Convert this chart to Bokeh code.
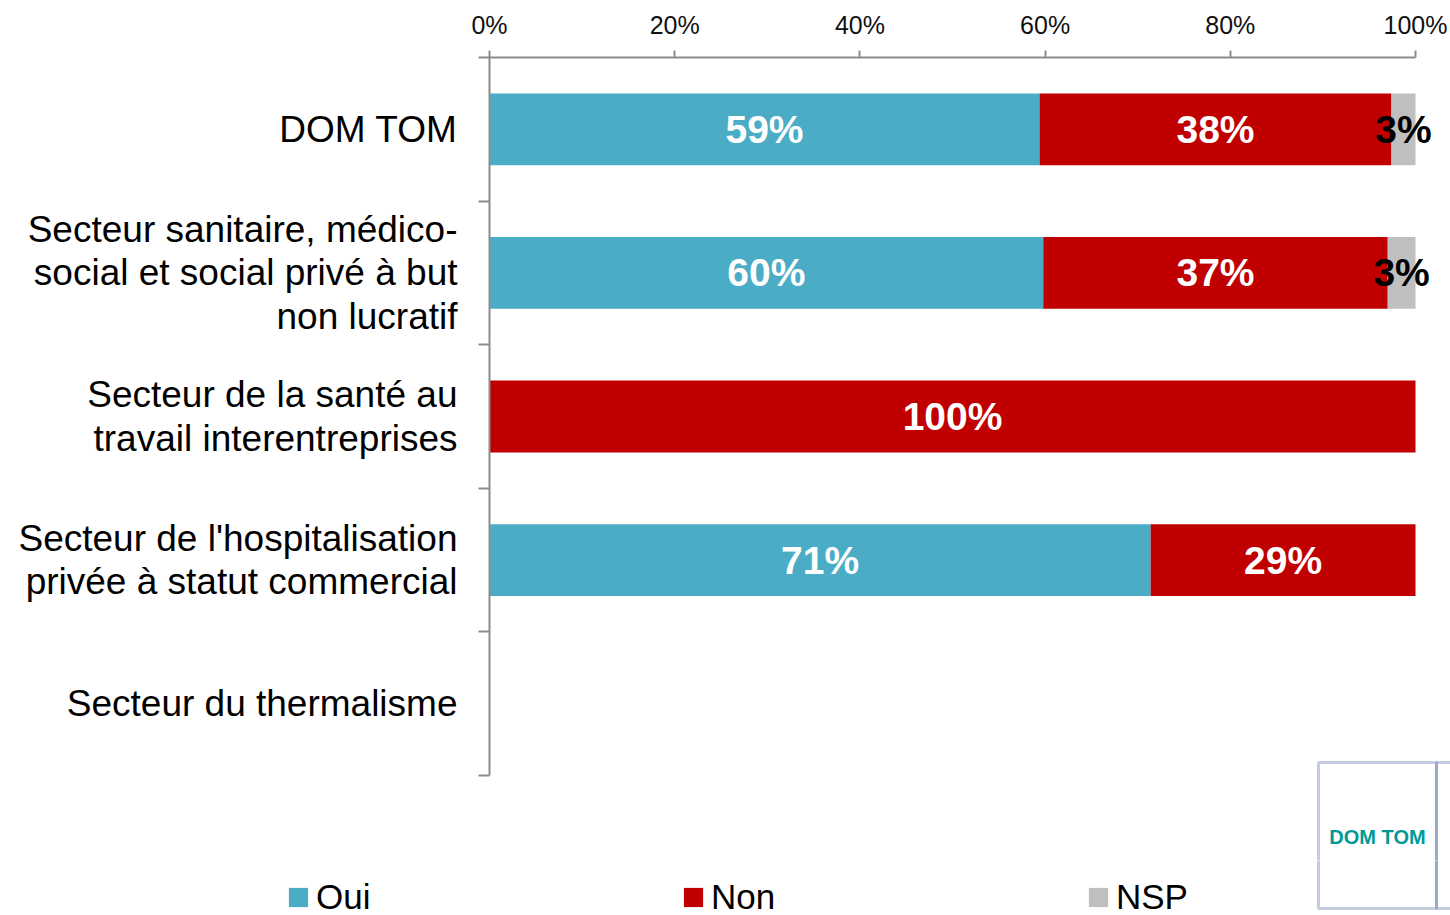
from bokeh.plotting import figure
from bokeh.models import (Range1d, FixedTicker, PrintfTickFormatter, ColumnDataSource,
                          LabelSet, Legend, LegendItem, BoxAnnotation, Label)
from bokeh.core.properties import value
from bokeh.embed import file_html
from bokeh.resources import INLINE

categories = [
    "DOM TOM",
    "Secteur sanitaire, médico-\nsocial et social privé à but\nnon lucratif",
    "Secteur de la santé au\ntravail interentreprises",
    "Secteur de l'hospitalisation\nprivée à statut commercial",
    "Secteur du thermalisme",
]
oui = [59.4, 59.8, 0, 71.4, 0]
non = [38.0, 37.2, 100, 28.6, 0]
nsp = [2.6, 3.0, 0, 0, 0]
series = ["Oui", "Non", "NSP"]
colors = ["#4BACC6", "#C00000", "#BFBFBF"]
label_colors = ["white", "white", "black"]
x_ticks = [0, 20, 40, 60, 80, 100]

FONT = "Liberation Sans"
AXIS_GRAY = "#8C8C8C"
TABLE_LINE = "#3A5A96"

# ---- layout geometry (pixels) ----
W = 1450
H_CHART = 860
H_LEG = 55
LEFT = 489          # x pixel of 0 %
TOP = 57            # y pixel of the category axis top
PX_PER_100 = 926    # pixels for 0..100 %
PX_PER_ROW = 143.6  # pixels per category row

n = len(categories)
x_end = 100 * (W - LEFT) / PX_PER_100
y_end = (H_CHART - TOP) / PX_PER_ROW

p = figure(width=W, height=H_CHART, output_backend="svg", toolbar_location=None,
           x_range=Range1d(0, x_end), y_range=Range1d(y_end, 0),
           x_axis_location="above",
           min_border_left=LEFT, min_border_right=0, min_border_top=TOP, min_border_bottom=0)
p.outline_line_color = None
p.xgrid.visible = False
p.ygrid.visible = False

pos = [i + 0.5 for i in range(n)]
source = ColumnDataSource(dict(y=pos, Oui=oui, Non=non, NSP=nsp))
renderers = p.hbar_stack(series, y="y", height=0.5, color=colors, line_color=None, source=source)

# segment labels
lx, ly, lt, lc = [], [], [], []
for i in range(n):
    start = 0.0
    for vals, tc in zip([oui, non, nsp], label_colors):
        v = vals[i]
        if v > 0:
            lx.append(start + v / 2)
            ly.append(pos[i])
            lt.append(f"{round(v)}%")
            lc.append(tc)
        start += v
lsrc = ColumnDataSource(dict(x=lx, y=ly, t=lt, c=lc))
p.add_layout(LabelSet(x="x", y="y", text="t", text_color="c", source=lsrc,
                      text_align="center", text_baseline="middle",
                      text_font=value(FONT), text_font_style="bold", text_font_size="39px"))

# x axis (top)
xa = p.xaxis[0]
xa.bounds = (0, 100)
xa.ticker = FixedTicker(ticks=x_ticks)
xa.formatter = PrintfTickFormatter(format="%d%%")
xa.major_tick_out = 7
xa.major_tick_in = 0
xa.minor_tick_out = 0
xa.minor_tick_in = 0
xa.axis_line_color = AXIS_GRAY
xa.axis_line_width = 2
xa.major_tick_line_color = AXIS_GRAY
xa.major_tick_line_width = 2
xa.major_label_text_font = FONT
xa.major_label_text_font_size = "25px"
xa.major_label_text_color = "#111111"
xa.major_label_standoff = 12

# y axis (left)
ya = p.yaxis[0]
ya.bounds = (0, n)
ya.ticker = FixedTicker(ticks=pos, minor_ticks=list(range(n + 1)))
ya.major_label_overrides = {pos[i]: categories[i] for i in range(n)}
ya.major_tick_out = 0
ya.major_tick_in = 0
ya.minor_tick_out = 11
ya.minor_tick_in = 0
ya.minor_tick_line_color = AXIS_GRAY
ya.minor_tick_line_width = 2
ya.axis_line_color = AXIS_GRAY
ya.axis_line_width = 2
ya.major_label_text_font = FONT
ya.major_label_text_font_size = "37px"
ya.major_label_text_color = "#000000"
ya.major_label_text_line_height = 1.06
ya.major_label_standoff = 21

# fragment of a neighbouring table visible at the bottom-right (top part)
for left, right in [(1318, 1436), (1436, 1600)]:
    p.add_layout(BoxAnnotation(left=left, right=right, top=762, bottom=1100,
                               left_units="canvas", right_units="canvas",
                               top_units="canvas", bottom_units="canvas",
                               fill_alpha=0, line_color=TABLE_LINE, line_width=3))
p.add_layout(Label(x=1377, y=836, x_units="canvas", y_units="canvas", text="DOM TOM",
                   text_align="center", text_baseline="middle", text_font=FONT,
                   text_font_size="20px", text_font_style="bold", text_color="#009999"))

# ---- legend strip: a second root below the chart, frame covering its whole canvas ----
lg = figure(width=W, height=H_LEG, output_backend="svg", toolbar_location=None,
            x_range=Range1d(0, 1), y_range=Range1d(100, 101),
            x_axis_location=None, y_axis_location=None, min_border=0)
lg.outline_line_color = None
lg.xgrid.visible = False
lg.ygrid.visible = False
# legend-only renderers (hidden; the legend uses their style)
leg_renderers = lg.hbar_stack(series, y="y", height=0.5, color=colors, line_color=None,
                              source=source)
for r in leg_renderers:
    r.visible = False

legend_x = [286, 681, 1086]
for s, r, lxp in zip(series, leg_renderers, legend_x):
    lg.add_layout(Legend(items=[LegendItem(label=s, renderers=[r])], location=(lxp, -2),
                         glyph_width=24, glyph_height=24, label_standoff=6,
                         padding=0, margin=0, border_line_color=None, background_fill_alpha=0,
                         inactive_fill_alpha=0,
                         label_text_font=FONT, label_text_font_size="35px",
                         label_text_color="#000000"))

for left, right in [(1318, 1436), (1436, 1600)]:
    lg.add_layout(BoxAnnotation(left=left, right=right, top=-200, bottom=908 - H_CHART,
                                left_units="canvas", right_units="canvas",
                                top_units="canvas", bottom_units="canvas",
                                fill_alpha=0, line_color=TABLE_LINE, line_width=3))

open("out.html", "w").write(file_html([p, lg], INLINE))
